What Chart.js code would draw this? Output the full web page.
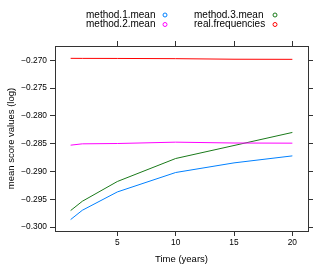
<!DOCTYPE html>
<html>
<head>
<meta charset="utf-8">
<script src="https://cdn.jsdelivr.net/npm/chart.js@4"></script>
<style>
  html, body { margin: 0; padding: 0; background: #fff; }
  #wrap { width: 332px; height: 272px; }
</style>
</head>
<body>
<div id="wrap"><canvas id="chart" width="332" height="272"></canvas></div>
<script>
const years = [1, 2, 5, 10, 15, 20];
const method1Mean = [-0.29866, -0.29699, -0.29369, -0.29019, -0.28846, -0.28720];
const method2Mean = [-0.28527, -0.28503, -0.28497, -0.28473, -0.28488, -0.28491];
const method3Mean = [-0.29704, -0.29537, -0.29181, -0.28767, -0.28533, -0.28298];
const realFrequencies = [-0.26964, -0.26965, -0.26966, -0.26970, -0.26980, -0.26982];

const seriesNames = ["method.1.mean", "method.2.mean", "method.3.mean", "real.frequencies"];
const seriesColors = ["#0080ff", "#ff00ff", "#1a7a1a", "#ff0000"];
const xTicks = [5, 10, 15, 20];
const yTicks = [-0.300, -0.295, -0.290, -0.285, -0.280, -0.275, -0.270];

const fontFamily = "'Liberation Sans', Arial, sans-serif";
const axisColor = "#333";

function toPoints(values) {
  return years.map((year, i) => ({ x: year, y: values[i] }));
}

function fixTicks(values) {
  return (scale) => {
    scale.ticks = values.map((value) => ({ value }));
  };
}

function formatY(value) {
  return value.toFixed(3).replace("-", "\u2212");
}

// lattice style key: two columns, text then an open circle
const keyPlugin = {
  id: "key",
  afterDraw(chart) {
    const ctx = chart.ctx;
    const cols = [{ textX: 86, dotX: 165 }, { textX: 194, dotX: 275 }];
    const rows = [15, 24.5];
    ctx.save();
    ctx.font = "10px " + fontFamily;
    ctx.textBaseline = "middle";
    ctx.textAlign = "left";
    chart.data.datasets.forEach((dataset, i) => {
      const col = cols[Math.floor(i / 2)];
      const y = rows[i % 2];
      ctx.fillStyle = "#000";
      ctx.fillText(dataset.label, col.textX, y);
      ctx.beginPath();
      ctx.arc(col.dotX, y, 2, 0, Math.PI * 2);
      ctx.strokeStyle = dataset.borderColor;
      ctx.lineWidth = 1;
      ctx.stroke();
    });
    ctx.restore();
  }
};

const tickFont = { family: fontFamily, size: 8.4 };
const titleFont = { family: fontFamily, size: 9.5 };

const gridStyle = {
  drawOnChartArea: false,
  drawTicks: true,
  tickLength: 5,
  color: axisColor,
  lineWidth: 1
};

new Chart(document.getElementById("chart"), {
  type: "line",
  data: {
    datasets: [method1Mean, method2Mean, method3Mean, realFrequencies].map((values, i) => ({
      label: seriesNames[i],
      data: toPoints(values),
      borderColor: seriesColors[i],
      backgroundColor: seriesColors[i],
      borderWidth: 1,
      pointRadius: 0,
      tension: 0
    }))
  },
  options: {
    responsive: false,
    animation: false,
    layout: { padding: 0 },
    plugins: {
      legend: { display: false },
      tooltip: { enabled: false }
    },
    scales: {
      x: {
        type: "linear",
        position: "bottom",
        min: -0.34,
        max: 21.34,
        afterBuildTicks: fixTicks(xTicks),
        afterFit: (scale) => { scale.height = 41; },
        grid: gridStyle,
        border: { display: true, color: axisColor, width: 1 },
        ticks: { font: tickFont, color: "#000", padding: 2, maxRotation: 0 },
        title: {
          display: true,
          text: "Time (years)",
          font: titleFont,
          color: "#000",
          padding: { top: 0, bottom: 7 }
        }
      },
      xTop: {
        type: "linear",
        position: "top",
        min: -0.34,
        max: 21.34,
        afterBuildTicks: fixTicks(xTicks),
        afterFit: (scale) => { scale.height = 46; },
        grid: gridStyle,
        border: { display: true, color: axisColor, width: 1 },
        ticks: { callback: () => "", font: tickFont }
      },
      y: {
        type: "linear",
        position: "left",
        min: -0.30072,
        max: -0.26742,
        afterBuildTicks: fixTicks(yTicks),
        afterFit: (scale) => { scale.width = 55; },
        grid: gridStyle,
        border: { display: true, color: axisColor, width: 1 },
        ticks: { font: tickFont, color: "#000", padding: 3, callback: (value) => formatY(value) },
        title: {
          display: true,
          text: "mean score values (log)",
          font: titleFont,
          color: "#000",
          padding: { top: 6, bottom: 0 }
        }
      },
      yRight: {
        type: "linear",
        position: "right",
        min: -0.30072,
        max: -0.26742,
        afterBuildTicks: fixTicks(yTicks),
        afterFit: (scale) => { scale.width = 24; },
        grid: gridStyle,
        border: { display: true, color: axisColor, width: 1 },
        ticks: { callback: () => "", font: tickFont }
      }
    }
  },
  plugins: [keyPlugin]
});
</script>
</body>
</html>
